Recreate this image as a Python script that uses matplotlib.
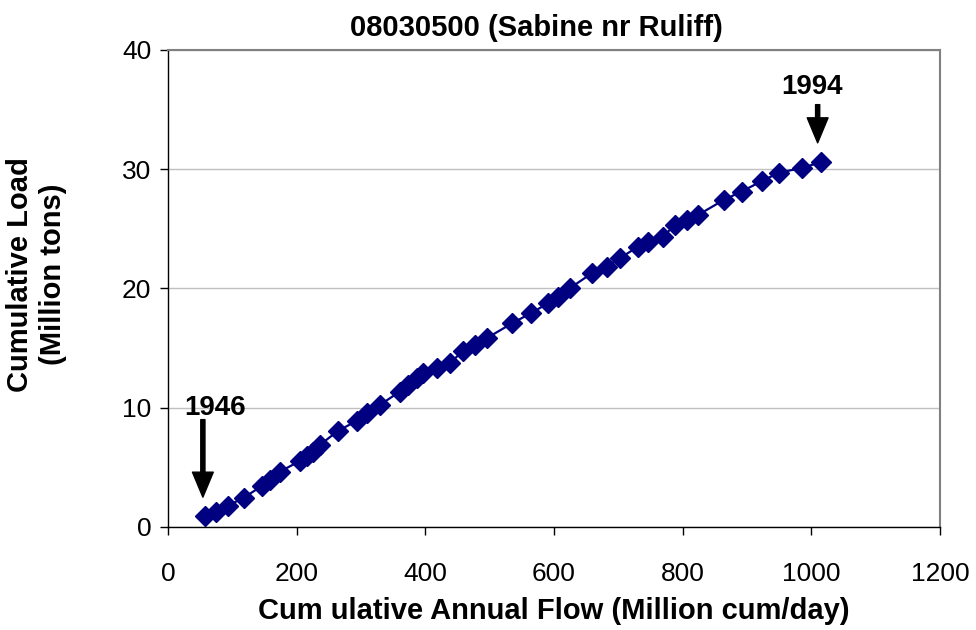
import matplotlib

matplotlib.use("Agg")
import matplotlib.pyplot as plt

# cumulative annual flow (million cum/day) vs cumulative load (million tons), 1946-1994
FLOW = [
    57.5, 74.2, 93.7, 118.1, 146.1, 158.6, 174.1, 205.2, 216.1, 225.4,
    236.3, 264.3, 293.3, 308.9, 329.5, 360.6, 373.5, 386.6, 396.9, 417.7,
    438.4, 458.6, 477.2, 495.4, 535.2, 564.3, 591.2, 606.7, 624.9, 659.1,
    681.9, 702.6, 731.1, 746.6, 769.9, 788.1, 806.3, 824.3, 864.3, 891.8,
    923.8, 950.3, 985.1, 1014.6,
]
LOAD = [
    0.95, 1.28, 1.79, 2.46, 3.44, 3.94, 4.64, 5.53, 5.95, 6.29,
    6.88, 8.05, 8.89, 9.53, 10.23, 11.35, 11.91, 12.47, 12.89, 13.31,
    13.73, 14.76, 15.26, 15.82, 17.08, 17.92, 18.76, 19.26, 20.02, 21.27,
    21.83, 22.53, 23.51, 23.92, 24.34, 25.33, 25.74, 26.16, 27.42, 28.12,
    29.01, 29.71, 30.08, 30.58,
]
X_TICKS = [0, 200, 400, 600, 800, 1000, 1200]
Y_TICKS = [0, 10, 20, 30, 40]

plt.rcParams["font.family"] = ["Liberation Sans", "DejaVu Sans"]

fig = plt.figure(figsize=(9.76, 6.30), dpi=100)
ax = fig.add_axes([0.172, 0.1635, 0.791, 0.7575])

ax.plot(FLOW, LOAD, color="#000080", linewidth=1.6, marker="D", markersize=10,
        markerfacecolor="#000080", markeredgecolor="#000080", zorder=3)

ax.set_xlim(0, 1200)
ax.set_ylim(0, 40)
ax.set_xticks(X_TICKS)
ax.set_yticks(Y_TICKS)
ax.tick_params(axis="both", direction="out", length=6, width=1, labelsize=19)
ax.tick_params(axis="x", pad=19)
ax.tick_params(axis="y", pad=6)
ax.yaxis.grid(True, color="#c0c0c0", linewidth=1)
ax.set_axisbelow(True)

for side in ("top", "right"):
    ax.spines[side].set_color("#808080")
    ax.spines[side].set_linewidth(1.5)
for side in ("left", "bottom"):
    ax.spines[side].set_color("#000000")
    ax.spines[side].set_linewidth(1)

ax.set_title("08030500 (Sabine nr Ruliff)", fontsize=21, fontweight="bold", pad=10)
ax.title.set_x(0.478)
ax.set_xlabel("Cum ulative Annual Flow (Million cum/day)", fontsize=21, fontweight="bold", labelpad=8)
ax.set_ylabel("Cumulative Load\n(Million tons)", fontsize=21, fontweight="bold", va="center")
ax.yaxis.set_label_coords(-0.17, 0.53)

arrow_style = dict(facecolor="black", edgecolor="black", width=3, headwidth=15, headlength=18, shrink=0)
ax.annotate("", xy=(54.4, 2.5), xytext=(54.4, 9.0), arrowprops=arrow_style)
ax.text(73, 10.0, "1946", fontsize=20, fontweight="bold", ha="center", va="center")
ax.annotate("", xy=(1010, 32.2), xytext=(1010, 35.4), arrowprops=arrow_style)
ax.text(1001, 36.9, "1994", fontsize=20, fontweight="bold", ha="center", va="center")

fig.savefig("out.png", dpi=100)
